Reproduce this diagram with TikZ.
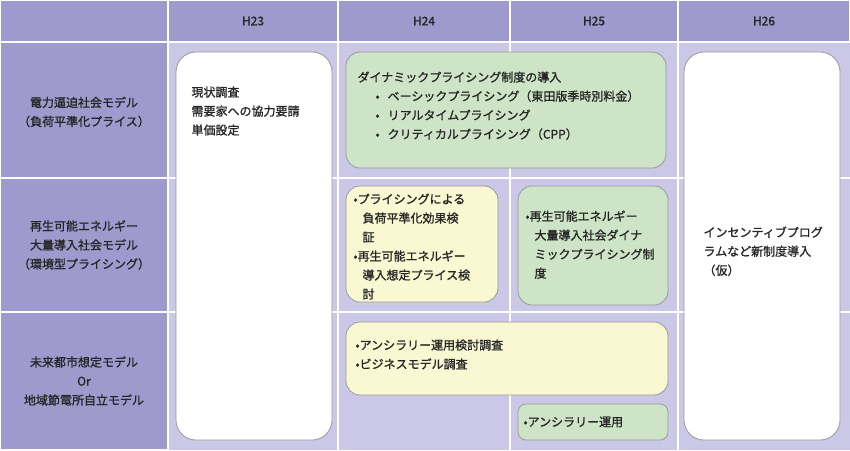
\documentclass[tikz,border=0pt]{standalone}
\usepackage{fontspec}
\newfontfamily\cjk{Noto Sans CJK JP}[AutoFakeBold=1.2]
\definecolor{headfill}{HTML}{9E9ACD}
\definecolor{cellfill}{HTML}{CBC7E6}
\definecolor{greenfill}{HTML}{CDE5C6}
\definecolor{yellowfill}{HTML}{FAF8D2}
\usetikzlibrary{positioning}
\begin{document}
\begin{tikzpicture}[x=1pt,y=-1pt,
  every node/.style={font=\cjk\bfseries\fontsize{12}{19}\selectfont,text=black!85},
  head cell/.style={fill=headfill,draw=white,line width=1.5pt},
  plain cell/.style={fill=cellfill,draw=white,line width=1.5pt},
  plan box/.style={draw=gray!80,rounded corners=14pt,line width=0.8pt}]
  \useasboundingbox (0,0) rectangle (850,450);
  % header and grid
  \fill[cellfill] (0,0) rectangle (850,450);
  \draw[head cell] (0,0) rectangle (850,42);
  \draw[head cell] (0,42) rectangle (168,450);
  \foreach \x in {168,338,510,678} \draw[white,line width=1.5pt] (\x,0) -- (\x,450);
  \foreach \y in {42,178,312} \draw[white,line width=1.5pt] (0,\y) -- (850,\y);
  \node (h23) at (253,21) {H23};
  \node (h24) at (424,21) {H24};
  \node (h25) at (594,21) {H25};
  \node (h26) at (764,21) {H26};
  % row labels
  \node[align=center] (rowA) at (84,112) {電力逼迫社会モデル\\（負荷平準化プライス）};
  \node[align=center] (rowB) at (84,245) {再生可能エネルギー\\大量導入社会モデル\\（環境型プライシング）};
  \node[align=center] (rowC) at (84,381) {未来都市想定モデル\\Or\\地域節電所自立モデル};
  % plan boxes
  \draw[plan box,fill=white,rounded corners=20pt] (176,52) rectangle (332,440);
  \node[align=left,anchor=north west] (survey) at (188,83) {現状調査\\需要家への協力要請\\単価設定};
  \draw[plan box,fill=greenfill] (346,52) rectangle (666,168);
  \node[align=left,anchor=north west] (dyn) at (354,68) {ダイナミックプライシング制度の導入\\
    \hspace*{18pt}•\hspace{8pt}ベーシックプライシング（東田版季時別料金）\\
    \hspace*{18pt}•\hspace{8pt}リアルタイムプライシング\\
    \hspace*{18pt}•\hspace{8pt}クリティカルプライシング（CPP）};
  \draw[plan box,fill=yellowfill] (346,186) rectangle (498,302);
  \node[align=left,anchor=north west] (eff) at (350,190) {•プライシングによる\\\hspace*{9pt}負荷平準化効果検\\\hspace*{9pt}証\\
    •再生可能エネルギー\\\hspace*{9pt}導入想定プライス検\\\hspace*{9pt}討};
  \draw[plan box,fill=greenfill] (518,186) rectangle (668,305);
  \node[align=left,anchor=north west] (renew) at (522,207) {•再生可能エネルギー\\\hspace*{9pt}大量導入社会ダイナ\\\hspace*{9pt}ミックプライシング制\\\hspace*{9pt}度};
  \draw[plan box,fill=white,rounded corners=20pt] (684,52) rectangle (840,440);
  \node[align=left,anchor=north west] (incent) at (700,223) {インセンティブプログ\\ラムなど新制度導入\\（仮）};
  \draw[plan box,fill=yellowfill] (346,322) rectangle (668,395);
  \node[align=left,anchor=north west] (anc) at (352,336) {•アンシラリー運用検討調査\\•ビジネスモデル調査};
  \draw[plan box,fill=greenfill,rounded corners=8pt] (518,404) rectangle (668,440);
  \node[anchor=west] (ancop) at (520,422) {•アンシラリー運用};
\end{tikzpicture}
\end{document}
